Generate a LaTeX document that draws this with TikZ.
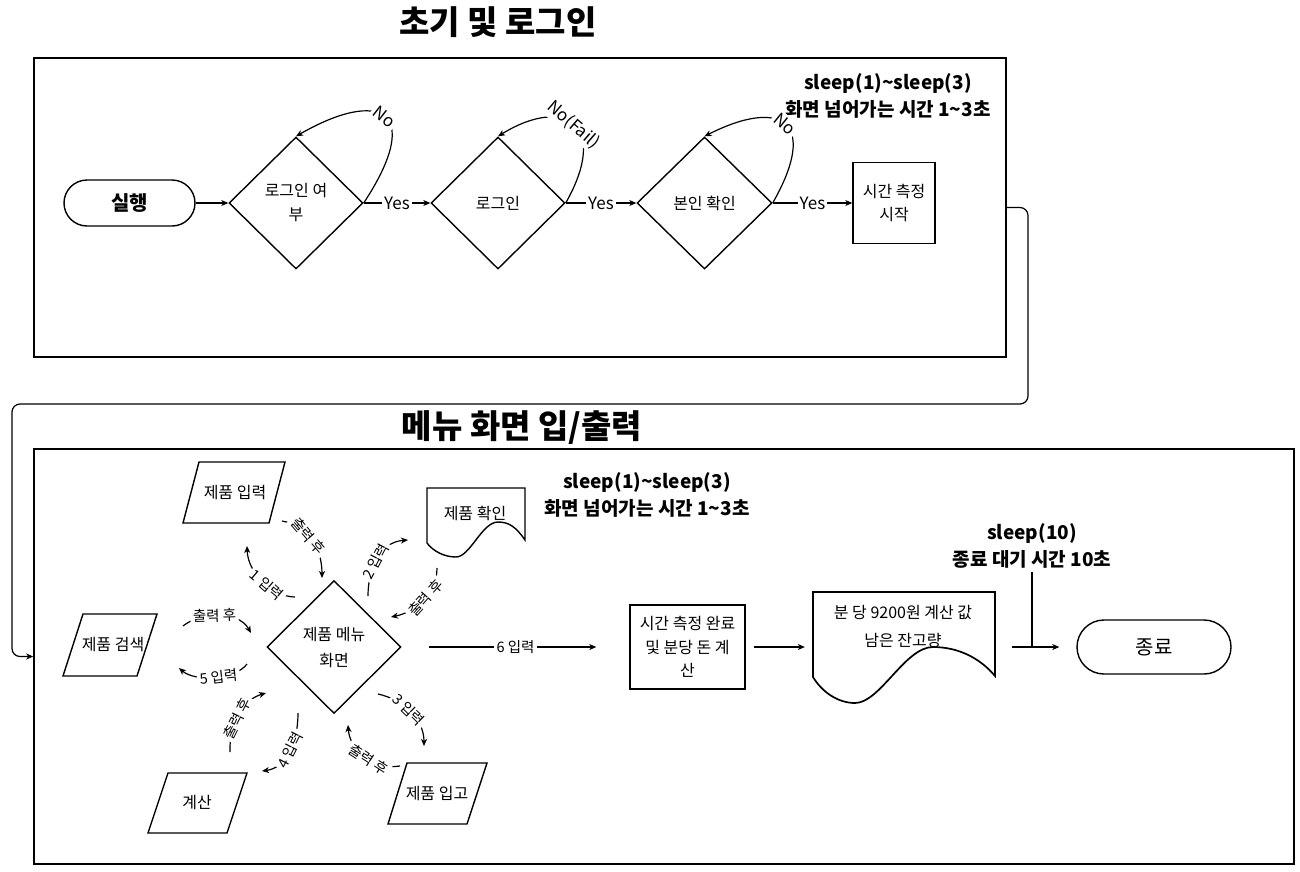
\documentclass[tikz,border=0pt]{standalone}
\usepackage{fontspec}
\setmainfont{Noto Sans CJK KR}
\usetikzlibrary{shapes.geometric, arrows.meta}
\begin{document}
\begin{tikzpicture}[x=1pt,y=1pt,
  every node/.style={font=\fontsize{16}{24}\selectfont},
  shp/.style={draw, line width=1.4pt, inner sep=0pt, align=center},
  outl/.style={line width=1.4pt, line join=miter},
  dia/.style={shp, diamond, minimum width=134pt, minimum height=132pt},
  box/.style={shp, rectangle},
  pill/.style={shp, rectangle},
  frm/.style={draw, line width=1.5pt, rectangle, inner sep=0pt},
  conn/.style={line width=1.2pt, -{Stealth[length=7pt,width=6pt,inset=2pt]}},
  ylbl/.style={fill=white, inner sep=2pt, font=\fontsize{17}{18}\selectfont},
  lbl/.style={fill=white, inner sep=2.5pt, font=\fontsize{14.5}{15}\selectfont, sloped},
  ttl/.style={font=\fontsize{33}{36}\selectfont\bfseries},
  note/.style={align=center, font=\fontsize{19}{27}\selectfont\bfseries},
]
\fill[white] (0,0) rectangle (1300,-871);
\useasboundingbox (0,0) rectangle (1300,-871);

% ---------- top section ----------
\node[ttl] (t1) at (498,-22) {초기 및 로그인};
\node[frm, minimum width=972pt, minimum height=299pt] (f1) at (520,-207.5) {};
\node[note] (s1) at (888,-96) {sleep(1)\textasciitilde sleep(3)\\화면 넘어가는 시간 1\textasciitilde 3초};

\node[pill, rounded corners=23pt, minimum width=131pt, minimum height=46pt, font=\fontsize{20}{22}\selectfont\bfseries] (run) at (129.5,-203) {실행};
\node[dia] (d1) at (296,-203) {로그인 여\\부};
\node[dia] (d2) at (498,-203) {로그인};
\node[dia, minimum width=135pt] (d3) at (704.5,-203) {본인 확인};
\node[box, minimum width=82pt, minimum height=81pt, font=\fontsize{16}{23}\selectfont] (r1) at (894,-203) {시간 측정\\시작};

\draw[conn] (run.east) -- (d1.west);
\draw[conn] (d1.east) -- node[ylbl]{Yes} (d2.west);
\draw[conn] (d2.east) -- node[ylbl]{Yes} (d3.west);
\draw[conn] (d3.east) -- node[ylbl]{Yes} (r1.west);

\draw[conn] (d1.east) .. controls (425,-110) and (380,-88) .. (d1.north) node[pos=0.5, lbl, font=\fontsize{17}{18}\selectfont]{No};
\draw[conn] (d2.east) .. controls (610,-125) and (565,-95) .. (d2.north) node[pos=0.5, lbl, font=\fontsize{17}{18}\selectfont]{No(Fail)};
\draw[conn] (d3.east) .. controls (820,-120) and (780,-98) .. (d3.north) node[pos=0.5, lbl, font=\fontsize{17}{18}\selectfont]{No};

% ---------- link between sections ----------
\node[frm, minimum width=1260pt, minimum height=415pt] (f2) at (664,-656.5) {};
\draw[conn, rounded corners=8pt] (f1.east) -- (1028,-207.5) -- (1028,-404) -- (12,-404) -- (12,-656.5) -- (f2.west);

% ---------- bottom section ----------
\node[ttl] (t2) at (522,-428) {메뉴 화면 입/출력};
\node[note] (s2) at (647,-495) {sleep(1)\textasciitilde sleep(3)\\화면 넘어가는 시간 1\textasciitilde 3초};

% parallelograms
\draw[outl] (199,-462) -- (285,-462) -- (269,-523) -- (183,-523) -- cycle;
\node (pin) at (235,-493) {제품 입력};
\draw[outl] (83,-614) -- (157,-614) -- (137,-676) -- (63,-676) -- cycle;
\node (psr) at (113,-644) {제품 검색};
\draw[outl] (168,-773) -- (247,-773) -- (227,-833) -- (148,-833) -- cycle;
\node (pcalc) at (197,-802) {계산};
\draw[outl] (407,-763) -- (487,-763) -- (467,-824) -- (388,-824) -- cycle;
\node (pstk) at (437,-793) {제품 입고};

\node[dia, minimum height=133pt, font=\fontsize{16}{26}\selectfont] (dm) at (334,-647) {제품 메뉴\\화면};

% document: 제품 확인
\draw[outl] (427,-488) -- (525,-488) -- (525,-540)
  .. controls (516,-527) and (509,-522) .. (498,-522)
  .. controls (482,-522) and (470,-557) .. (456,-557)
  .. controls (444,-557) and (433,-551) .. (427,-543) -- cycle;
\node (pchk) at (475,-513) {제품 확인};

\node[box, minimum width=115pt, minimum height=84pt, font=\fontsize{16}{23.5}\selectfont] (r2) at (687.5,-647) {시간 측정 완료\\및 분당 돈 계\\산};

% document: result
\node[minimum width=182pt, minimum height=84pt, inner sep=0pt] (doc2) at (904,-634) {};
\draw[line width=1.7pt] (813,-592) -- (995,-592) -- (995,-676)
  .. controls (980,-658) and (958,-647) .. (933,-647)
  .. controls (905,-647) and (880,-703) .. (855,-703)
  .. controls (838,-703) and (822,-692) .. (813,-677) -- cycle;
\node[align=center, font=\fontsize{16}{28}\selectfont] (doc2t) at (903,-626) {분 당 9200원 계산 값\\남은 잔고량};

\node[pill, rounded corners=27pt, minimum width=154pt, minimum height=54pt, font=\fontsize{20}{22}\selectfont] (fin) at (1154,-647) {종료};
\node[note] (s3) at (1032,-546) {sleep(10)\\종료 대기 시간 10초};

\draw[conn, shorten <=27pt, shorten >=33pt] (dm.east) -- node[fill=white, inner sep=3pt, font=\fontsize{14.5}{15}\selectfont]{6 입력} (r2.west);
\draw[conn, shorten <=8pt, shorten >=8pt] (r2.east) -- (r2.east -| doc2.west);
\draw[conn, shorten <=17pt, shorten >=17pt] (doc2.east |- fin.west) -- (fin.west);
\draw[line width=1.2pt] (s3.south) -- (s3.south |- fin.west);

% menu connectors
\coordinate (a1s) at (295,-597); \coordinate (a1e) at (247,-546);
\coordinate (a2s) at (282,-521); \coordinate (a2e) at (322,-578);
\coordinate (a3s) at (368,-596); \coordinate (a3e) at (408,-540);
\coordinate (a4s) at (437,-568); \coordinate (a4e) at (391,-617);
\coordinate (a5s) at (183,-626); \coordinate (a5e) at (251,-633);
\coordinate (a6s) at (247,-664); \coordinate (a6e) at (179,-668);
\coordinate (a7s) at (230,-752); \coordinate (a7e) at (266,-693);
\coordinate (a8s) at (298,-713); \coordinate (a8e) at (262,-771);
\coordinate (a9s) at (378,-694); \coordinate (a9e) at (424,-746);
\coordinate (a10s) at (400,-766); \coordinate (a10e) at (348,-725);

\draw[conn] (a1s) .. controls (275,-597) and (248,-575) .. (a1e) node[pos=0.45, lbl]{1 입력};
\draw[conn] (a2s) .. controls (305,-525) and (322,-545) .. (a2e) node[pos=0.45, lbl]{출력 후};
\draw[conn] (a3s) .. controls (368,-568) and (380,-542) .. (a3e) node[pos=0.45, lbl]{2 입력};
\draw[conn] (a4s) .. controls (437,-595) and (415,-612) .. (a4e) node[pos=0.45, lbl]{출력 후};
\draw[conn] (a5s) .. controls (200,-612) and (238,-610) .. (a5e) node[pos=0.45, lbl]{출력 후};
\draw[conn] (a6s) .. controls (235,-680) and (195,-682) .. (a6e) node[pos=0.45, lbl]{5 입력};
\draw[conn] (a7s) .. controls (229,-725) and (242,-700) .. (a7e) node[pos=0.45, lbl]{출력 후};
\draw[conn] (a8s) .. controls (298,-745) and (285,-768) .. (a8e) node[pos=0.45, lbl]{4 입력};
\draw[conn] (a9s) .. controls (405,-700) and (424,-720) .. (a9e) node[pos=0.45, lbl]{3 입력};
\draw[conn] (a10s) .. controls (375,-770) and (350,-752) .. (a10e) node[pos=0.45, lbl]{출력 후};
\end{tikzpicture}
\end{document}
